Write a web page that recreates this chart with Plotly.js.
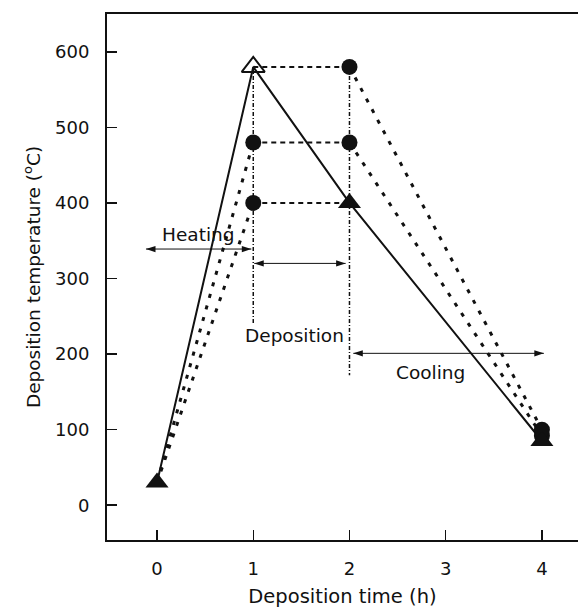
<!DOCTYPE html>
<html>
<head>
<meta charset="utf-8">
<script src="https://cdn.plot.ly/plotly-3.0.1.min.js"></script>
<style>html,body{margin:0;padding:0;background:#fff;}#chart{width:578px;height:608px;}</style>
</head>
<body>
<div id="chart"></div>
<script>
// ---- data ----
const times = [0, 1, 2, 4];
const solidTemps = [30, 580, 400, 85];        // solid line with triangles
const dep400 = [30, 400, 400, null];          // cools along the solid line
const dep480 = [30, 480, 480, 92];
const dep580 = [null, 580, 580, 100];         // heats along the solid line
const xTickVals = [0, 1, 2, 3, 4];
const yTickVals = [0, 100, 200, 300, 400, 500, 600];
// phase divider lines
const dividerX = [1, 2];
const dividerTop = [580, 580];
const dividerBottom = [240, 172];
// phase arrows and labels
const phaseNames = ['Heating', 'Deposition', 'Cooling'];
const arrowX0 = [-0.115, 1.01, 2.04];
const arrowX1 = [0.98, 1.96, 4.02];
const arrowY = [339, 320, 201];
const labelX = [0.43, 1.43, 2.845];
const labelY = [358, 224, 175];

const black = '#111';
const FONT = 'DejaVu Sans, Verdana, sans-serif';
const traces = [];

// solid line
traces.push({x: times, y: solidTemps, mode: 'lines', line: {color: black, width: 2}, hoverinfo: 'skip'});

const dotted = {color: black, width: 3, dash: '4px,8px'};
const dashed = {color: black, width: 2, dash: '5px,4px'};
[dep400, dep480, dep580].forEach(s => {
  const segs = [[0, 2, dotted], [1, 3, dashed], [2, 4, dotted]];
  segs.forEach(([a, b, st]) => {
    const ys = s.slice(a, b);
    if (ys.some(v => v === null)) return;
    traces.push({x: times.slice(a, b), y: ys, mode: 'lines', line: st, hoverinfo: 'skip'});
  });
});

// divider lines
dividerX.forEach((x, i) => {
  traces.push({x: [x, x], y: [dividerTop[i], dividerBottom[i]], mode: 'lines',
    line: {color: black, width: 1.5, dash: '4px,2px,1px,2px'}, hoverinfo: 'skip'});
});

// double-headed phase arrows
phaseNames.forEach((n, i) => {
  traces.push({x: [arrowX0[i], arrowX1[i]], y: [arrowY[i], arrowY[i]], mode: 'lines+markers',
    line: {color: black, width: 1},
    marker: {symbol: 'arrow', size: 10, angle: [-90, 90], color: black, line: {width: 0}},
    hoverinfo: 'skip'});
});

// circle markers
const circX = [], circY = [];
[dep400, dep480, dep580].forEach(s => {
  for (let i = 1; i < times.length; i++) {
    if (s[i] === null) continue;
    if (s[i] === solidTemps[i]) continue; // a triangle sits there
    circX.push(times[i]); circY.push(s[i]);
  }
});
traces.push({x: circX, y: circY, mode: 'markers',
  marker: {symbol: 'circle', size: 16, color: black, line: {width: 0}}, hoverinfo: 'skip'});

// triangle markers
traces.push({x: [times[0], times[2], times[3]], y: [solidTemps[0], solidTemps[2], solidTemps[3]], mode: 'markers',
  marker: {symbol: 'triangle-up', size: 20, color: black, line: {width: 0}}, hoverinfo: 'skip'});
traces.push({x: [times[1]], y: [solidTemps[1]], mode: 'markers',
  marker: {symbol: 'triangle-up-open', size: 20, color: black, line: {width: 2, color: black}}, hoverinfo: 'skip'});

const annotations = phaseNames.map((n, i) => ({
  x: labelX[i], y: labelY[i], xref: 'x', yref: 'y', text: n, showarrow: false,
  font: {family: FONT, size: 18.5, color: black}
}));

const layout = {
  width: 578, height: 608,
  margin: {l: 107, r: 0, t: 14, b: 68},
  paper_bgcolor: '#fff', plot_bgcolor: '#fff',
  showlegend: false,
  font: {family: FONT, size: 18, color: black},
  xaxis: {
    range: [-0.52, 4.375], tickvals: xTickVals, ticks: 'inside', ticklen: 10, tickwidth: 1.5, tickcolor: black,
    showline: true, linecolor: black, linewidth: 2, mirror: true, showgrid: false, zeroline: false,
    ticklabelstandoff: 11, tickfont: {size: 18},
    title: {text: 'Deposition time (h)', font: {size: 19.5}, standoff: 14}
  },
  yaxis: {
    range: [-46, 650], tickvals: yTickVals, ticks: 'inside', ticklen: 10, tickwidth: 1.5, tickcolor: black,
    showline: true, linecolor: black, linewidth: 2, mirror: false, showgrid: false, zeroline: false,
    ticklabelstandoff: 12, tickfont: {size: 18},
    title: {text: 'Deposition temperature (<sup>o</sup>C)', font: {size: 18.5}, standoff: 10}
  },
  annotations: annotations
};

Plotly.newPlot('chart', traces, layout, {displayModeBar: false, staticPlot: true});
</script>
</body>
</html>
